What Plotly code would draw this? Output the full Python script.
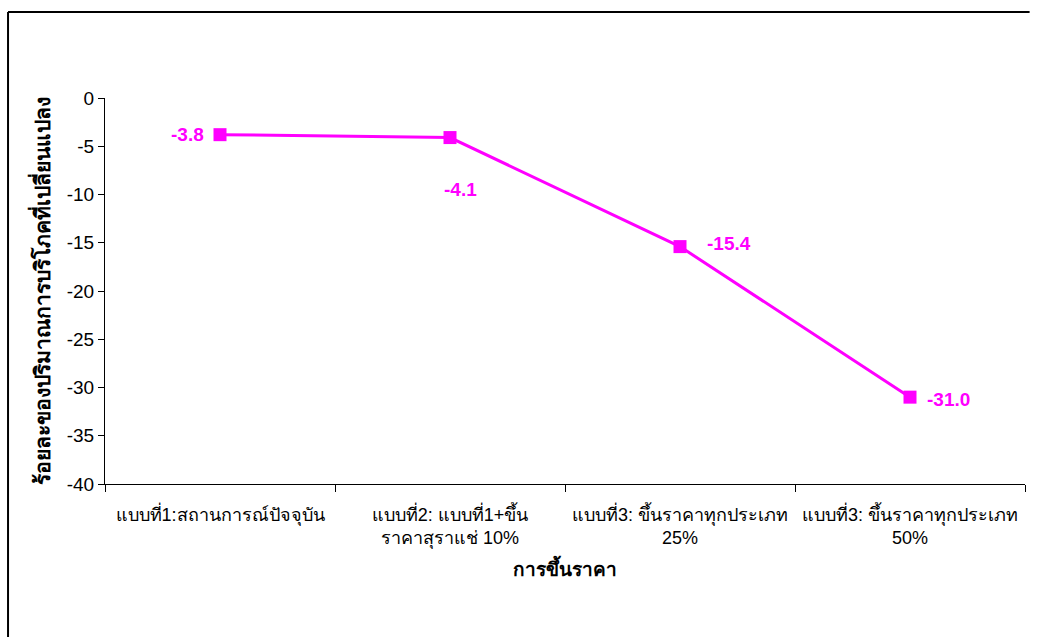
import plotly.graph_objects as go

# Price-increase scenarios and resulting % change in consumption
categories = [
    "แบบที่1:สถานการณ์ปัจจุบัน",
    "แบบที่2: แบบที่1+ขึ้น<br>ราคาสุราแช่ 10%",
    "แบบที่3: ขึ้นราคาทุกประเภท<br>25%",
    "แบบที่3: ขึ้นราคาทุกประเภท<br>50%",
]
change_pct = [-3.8, -4.1, -15.4, -31.0]
y_ticks = [0, -5, -10, -15, -20, -25, -30, -35, -40]

# pixel offsets for each value label
label_shift = [(-33, 0), (10, -52), (49, 3), (38, -2)]

MAGENTA = "#FF00FF"
FONT = "Liberation Sans, Arial, Noto Sans, sans-serif"

fig = go.Figure()
fig.add_trace(go.Scatter(
    x=categories,
    y=change_pct,
    mode="lines+markers",
    line=dict(color=MAGENTA, width=3),
    marker=dict(symbol="square", size=13, color=MAGENTA),
    showlegend=False,
    hoverinfo="skip",
))

for cat, v, (dx, dy) in zip(categories, change_pct, label_shift):
    fig.add_annotation(
        x=cat, y=v, xref="x", yref="y",
        text=f"<b>{v:.1f}</b>",
        showarrow=False,
        xshift=dx, yshift=dy,
        font=dict(family=FONT, size=19, color=MAGENTA),
    )

# outer frame: left and top edges
frame = dict(color="black", width=2)
fig.add_shape(type="line", xref="paper", yref="paper",
              x0=-0.1054, x1=-0.1054, y0=-0.3964, y1=1.2228, line=frame)
fig.add_shape(type="line", xref="paper", yref="paper",
              x0=-0.1054, x1=1.005, y0=1.2228, y1=1.2228, line=frame)

fig.update_layout(
    width=1039, height=637,
    margin=dict(l=105, r=14, t=98, b=153),
    paper_bgcolor="white",
    plot_bgcolor="white",
    font=dict(family=FONT, size=18, color="black"),
    xaxis=dict(
        type="category",
        range=[-0.5, 3.5],
        showline=True, linecolor="black", linewidth=1,
        ticks="outside", tickson="boundaries", ticklen=7, tickcolor="black",
        showgrid=False, zeroline=False,
        tickfont=dict(size=18),
        ticklabelstandoff=14,
        title=dict(text="<b>การขึ้นราคา</b>", font=dict(size=19), standoff=14),
    ),
    yaxis=dict(
        range=[-40, 0],
        tickvals=y_ticks,
        ticktext=[str(t) for t in y_ticks],
        showline=True, linecolor="black", linewidth=1,
        ticks="outside", ticklen=6, tickcolor="black",
        showgrid=False, zeroline=False,
        tickfont=dict(size=19),
        title=dict(text="<b>ร้อยละของปริมาณการบริโภคที่เปลี่ยนแปลง</b>",
                   font=dict(size=21), standoff=10),
    ),
)

fig.write_html("out.html")
